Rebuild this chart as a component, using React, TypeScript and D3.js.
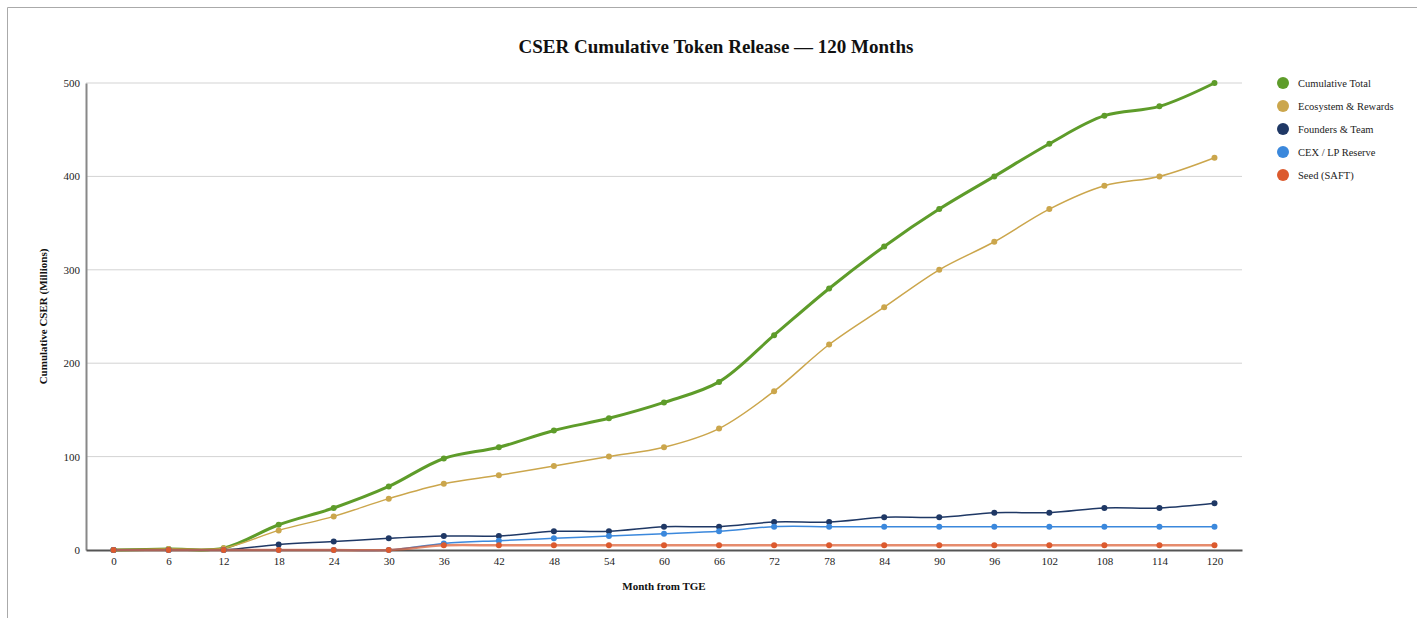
import React, { useEffect, useRef } from 'react';
import * as d3 from 'd3';

const months = [0, 6, 12, 18, 24, 30, 36, 42, 48, 54, 60, 66, 72, 78, 84, 90, 96, 102, 108, 114, 120];

const cumulativeTotal = [0, 1, 2, 27, 45, 68, 98, 110, 128, 141, 158, 180, 230, 280, 325, 365, 400, 435, 465, 475, 500];
const ecosystemRewards = [0, 1, 2, 21, 36, 55, 71, 80, 90, 100, 110, 130, 170, 220, 260, 300, 330, 365, 390, 400, 420];
const foundersTeam = [0, 0, 0, 6, 9, 12.5, 15, 15, 20, 20, 25, 25, 30, 30, 35, 35, 40, 40, 45, 45, 50];
const cexLpReserve = [0, 0, 0, 0, 0, 0, 7, 10, 12.5, 15, 17.5, 20, 25, 25, 25, 25, 25, 25, 25, 25, 25];
const seedSaft = [0, 0, 0, 0, 0, 0, 5, 5, 5, 5, 5, 5, 5, 5, 5, 5, 5, 5, 5, 5, 5];

const yTicks = [0, 100, 200, 300, 400, 500];

const series = [
  { name: 'Cumulative Total', values: cumulativeTotal, color: '#5e9c2a', width: 3, opacity: 1 },
  { name: 'Ecosystem & Rewards', values: ecosystemRewards, color: '#cba64c', width: 1.5, opacity: 1 },
  { name: 'Founders & Team', values: foundersTeam, color: '#1f3865', width: 1.5, opacity: 1 },
  { name: 'CEX / LP Reserve', values: cexLpReserve, color: '#3b88dc', width: 1.5, opacity: 1 },
  { name: 'Seed (SAFT)', values: seedSaft, color: '#dc5a2e', width: 2.5, opacity: 0.7 },
];

const App: React.FC = () => {
  const ref = useRef<SVGSVGElement | null>(null);

  useEffect(() => {
    const svg = d3.select(ref.current);
    svg.selectAll('*').remove();

    const width = 1417;
    const height = 618;
    const margin = { top: 83, right: 175, bottom: 68, left: 86 };
    const font = '"Liberation Serif", "Times New Roman", serif';

    svg.attr('width', width).attr('height', height);

    // frame edges
    svg.append('line').attr('x1', 7.5).attr('x2', width).attr('y1', 7.5).attr('y2', 7.5)
      .attr('stroke', '#aaa').attr('stroke-width', 1);
    svg.append('line').attr('x1', 7.5).attr('x2', 7.5).attr('y1', 7.5).attr('y2', height)
      .attr('stroke', '#aaa').attr('stroke-width', 1);

    const x = d3
      .scalePoint<number>()
      .domain(months)
      .range([margin.left, width - margin.right])
      .padding(0.5);

    const y = d3
      .scaleLinear()
      .domain([0, 500])
      .range([height - margin.bottom, margin.top]);

    // grid
    svg.append('g')
      .selectAll('line')
      .data(yTicks.filter(d => d > 0))
      .join('line')
      .attr('x1', margin.left)
      .attr('x2', width - margin.right)
      .attr('y1', d => y(d))
      .attr('y2', d => y(d))
      .attr('stroke', '#d3d3d3')
      .attr('stroke-width', 1);

    // y axis
    const yAxis = svg.append('g')
      .attr('transform', `translate(${margin.left},0)`)
      .call(d3.axisLeft(y).tickValues(yTicks).tickSize(0).tickPadding(6));
    yAxis.select('.domain').attr('stroke', '#888').attr('stroke-width', 2);
    yAxis.selectAll('text').attr('font-family', font).attr('font-size', 11).attr('fill', '#222');

    // x axis
    const xAxis = svg.append('g')
      .attr('transform', `translate(0,${height - margin.bottom})`)
      .call(d3.axisBottom(x).tickSize(0).tickPadding(7));
    xAxis.select('.domain').attr('stroke', '#555').attr('stroke-width', 2);
    xAxis.selectAll('text').attr('font-family', font).attr('font-size', 11).attr('fill', '#222');

    const line = d3
      .line<number>()
      .x((_, i) => x(months[i]) as number)
      .y(d => y(d))
      .curve(d3.curveCatmullRom.alpha(0.5));

    series.forEach(s => {
      svg.append('path')
        .datum(s.values)
        .attr('fill', 'none')
        .attr('stroke', s.color)
        .attr('stroke-width', s.width)
        .attr('stroke-opacity', s.opacity)
        .attr('d', line);
    });

    series.forEach(s => {
      svg.append('g')
        .attr('fill', s.color)
        .selectAll('circle')
        .data(s.values)
        .join('circle')
        .attr('cx', (_, i) => x(months[i]) as number)
        .attr('cy', d => y(d))
        .attr('r', 3);
    });

    // title
    svg.append('text')
      .attr('x', 716)
      .attr('y', 53)
      .attr('text-anchor', 'middle')
      .attr('font-family', font)
      .attr('font-weight', 'bold')
      .attr('font-size', 19)
      .attr('fill', '#111')
      .text('CSER Cumulative Token Release — 120 Months');

    svg.append('text')
      .attr('x', (margin.left + width - margin.right) / 2)
      .attr('y', 590)
      .attr('text-anchor', 'middle')
      .attr('font-family', font)
      .attr('font-weight', 'bold')
      .attr('font-size', 11)
      .attr('fill', '#111')
      .text('Month from TGE');

    svg.append('text')
      .attr('transform', `translate(47,${(y(0) + y(500)) / 2}) rotate(-90)`)
      .attr('text-anchor', 'middle')
      .attr('font-family', font)
      .attr('font-weight', 'bold')
      .attr('font-size', 11)
      .attr('fill', '#111')
      .text('Cumulative CSER (Millions)');

    // legend
    const legend = svg.append('g')
      .selectAll('g')
      .data(series)
      .join('g')
      .attr('transform', (_, i) => `translate(1283,${83 + i * 23})`);
    legend.append('circle').attr('r', 6).attr('fill', d => d.color);
    legend.append('text')
      .attr('x', 15)
      .attr('dy', '0.35em')
      .attr('font-family', font)
      .attr('font-size', 10.5)
      .attr('fill', '#222')
      .text(d => d.name);
  }, []);

  return (
    <svg ref={ref} style={{ position: 'absolute', left: 0, top: 0 }}></svg>
  );
};

export default App;
